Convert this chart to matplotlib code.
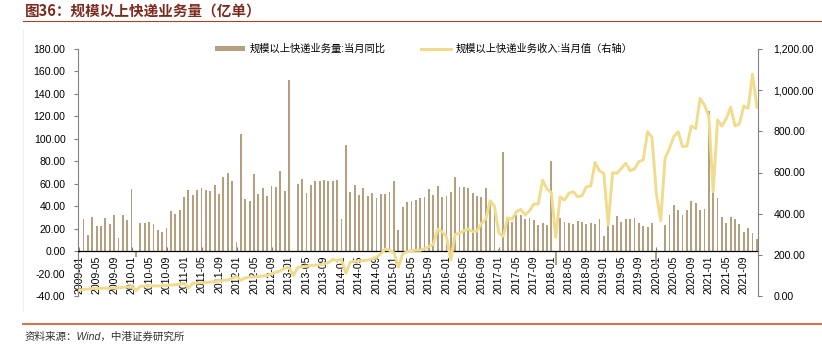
import numpy as np
import matplotlib
matplotlib.use("Agg")
import matplotlib.pyplot as plt
from matplotlib.patches import Patch
from matplotlib.lines import Line2D

plt.rcParams['font.family'] = ['Liberation Sans', 'Noto Sans CJK SC', 'DejaVu Sans']

# ---------------- data ----------------
years = list(range(2009, 2022))
months = [f"{y}-{m:02d}" for y in years for m in range(1, 13)]

volume_yoy = [
    # 2009
    -2, 29, 14.5, 30, 22, 22.5, 29.4, 24.3, 32, 11.3, 32.3, 27.3,
    # 2010
    55.5, -5.3, 24.6, 24.6, 25.8, 23.7, 19, 17, 20.8, 36, 32.6, 36.8,
    # 2011
    48.4, 54, 50, 54, 56, 54.6, 53.4, 58.8, 51, 65.9, 70, 62.6,
    # 2012
    8, 104.7, 46.3, 44.2, 68.8, 51, 56.4, 49.3, 58.2, 57, 71, 53.4,
    # 2013
    152.8, 0.5, 60.2, 64.4, 51.3, 58.8, 62, 62, 62.9, 62.6, 62, 62.9,
    # 2014
    29, 94.7, 53, 59, 50.4, 56.4, 48.7, 51.6, 46.9, 51, 51, 53,
    # 2015
    62.6, 18.7, 38.9, 43.6, 44.2, 45.7, 47.2, 48, 55.5, 50, 58.2, 47.8,
    # 2016
    49.3, 52.5, 66.2, 56.7, 57, 56.4, 52, 49.3, 47.8, 55.8, 45, 42,
    # 2017
    2, 88.4, 30, 25.5, 31.8, 32.3, 28.5, 29.4, 27.3, 23.4, 25, 23.4,
    # 2018
    80.4, -12, 29.7, 25.5, 25, 24.3, 27, 25.8, 24, 25, 24.3, 28.8,
    # 2019
    13.4, 24, 23.4, 30.9, 25.5, 28.8, 28.5, 29.4, 25, 22.6, 21.4, 25.2,
    # 2020
    -12, np.nan, 23.1, 32, 41, 36.8, 32.3, 36.5, 44.8, 43, 36.5, 37.7,
    # 2021
    124.6, 54.6, 47.5, 30.6, 25, 30.3, 29, 24, 16.6, 20.8, 16.3, 10.7,
]

revenue = [
    # 2009
    28, 32, 34, 36, 36, 37, 38, 38, 39, 40, 42, 44,
    # 2010
    47, 26, 47, 48, 48, 49, 49, 50, 51, 53, 55, 57,
    # 2011
    62, 40, 62, 63, 64, 66, 68, 70, 74, 76, 78, 86,
    # 2012
    95, 76, 88, 92, 92, 95, 97, 100, 108, 115, 122, 135,
    # 2013
    140, 100, 138, 142, 145, 148, 150, 152, 155, 162, 178, 172,
    # 2014
    178, 110, 165, 168, 170, 172, 175, 180, 188, 205, 228, 222,
    # 2015
    210, 140, 205, 215, 220, 222, 222, 230, 240, 251, 324, 313,
    # 2016
    288, 175, 300, 305, 317, 325, 313, 316, 353, 374, 463, 434,
    # 2017
    305, 291, 380, 372, 410, 421, 394, 414, 447, 447, 563, 520,
    # 2018
    502, 285, 482, 466, 499, 507, 482, 487, 531, 534, 649, 607,
    # 2019
    596, 345, 599, 596, 620, 645, 609, 617, 653, 661, 798, 771,
    # 2020
    499, 366, 669, 717, 774, 798, 725, 729, 826, 813, 960, 928,
    # 2021
    874, 507, 855, 826, 863, 917, 826, 836, 923, 912, 1078, 917,
]

bar_label = "规模以上快递业务量:当月同比"
line_label = "规模以上快递业务收入:当月值（右轴）"
title = "图36：规模以上快递业务量（亿单）"
source = "资料来源：Wind，中港证券研究所"

# ---------------- figure ----------------
W, H = 822, 347
fig = plt.figure(figsize=(W / 100, H / 100), dpi=100)

def fx(px):
    return px / W

def fy(py):
    return 1 - py / H

bar_color = "#B4A07E"
line_color = "#F0DC8C"
axis_color = "#808080"

left, right, top, bottom = 78, 758, 49, 296
ax = fig.add_axes([fx(left), fy(bottom), fx(right) - fx(left), fy(top) - fy(bottom)])
ax2 = ax.twinx()

x = np.arange(len(months))
ax.bar(x, volume_yoy, width=0.42, color=bar_color, zorder=2)
ax2.plot(x, revenue, color=line_color, lw=2.1, zorder=3, solid_joinstyle='round')
ax.patch.set_visible(False)

ax.set_xlim(-0.25, len(months) - 0.75)
ax.set_ylim(-40, 180)
ax2.set_ylim(0, 1200)

for a in (ax, ax2):
    a.spines['top'].set_visible(False)
ax.spines['right'].set_visible(False)
ax2.spines['left'].set_visible(False)
ax2.spines['bottom'].set_visible(False)
ax.spines['bottom'].set_position(('data', 0))
ax.spines['bottom'].set_color('#000000')
ax.spines['bottom'].set_linewidth(0.9)
ax.spines['left'].set_color(axis_color)
ax2.spines['right'].set_color(axis_color)

ax.tick_params(axis='y', direction='out', length=3, color=axis_color, labelsize=7.6, pad=6)
ax2.tick_params(axis='y', direction='out', length=3, color=axis_color, labelsize=7.6, pad=8)
ax.tick_params(axis='x', direction='in', length=3, color=axis_color, labelsize=7.6,
               pad=3, labelrotation=90)

yt = np.arange(-40, 181, 20)
ax.set_yticks(yt)
ax.set_yticklabels([f"{v:.2f}" for v in yt])
yt2 = np.arange(0, 1201, 200)
ax2.set_yticks(yt2)
ax2.set_yticklabels([f"{v:,.2f}" for v in yt2])

tick_idx = np.arange(0, len(months), 4)
ax.set_xticks(tick_idx)
ax.set_xticklabels([months[i] for i in tick_idx])
for lbl in ax.get_xticklabels():
    lbl.set_rotation(90)
    lbl.set_va('top')
    lbl.set_ha('center')

# legend
handles = [Patch(facecolor=bar_color, edgecolor='none'),
           Line2D([0], [0], color=line_color, lw=2.2)]
leg = ax.legend(handles, [bar_label, line_label], loc='center',
                bbox_to_anchor=((424 - left) / (right - left), 1.0),
                ncol=2, frameon=False, fontsize=7.4, handlelength=2.9,
                handleheight=0.5, columnspacing=3.4, handletextpad=0.5)

# title, rules, source
fig.text(fx(25), fy(11), title, fontsize=10.5, fontweight='bold', color='#7B2B1F',
         va='center', ha='left', family=['Noto Sans CJK SC', 'DejaVu Sans'])
fig.add_artist(Line2D([fx(23), fx(822)], [fy(21), fy(21)], color='#A0462E', lw=0.8))
fig.add_artist(Line2D([fx(23), fx(822)], [fy(324), fy(324)], color='#D9603B', lw=1.3))
fig.add_artist(Line2D([fx(23), fx(23)], [fy(30), fy(310)], color='#F0F0F0', lw=0.8))
fig.text(fx(25), fy(337), source, fontsize=7.6, color='#333333', style='italic',
         va='center', ha='left')

fig.savefig("out.png", dpi=100)
